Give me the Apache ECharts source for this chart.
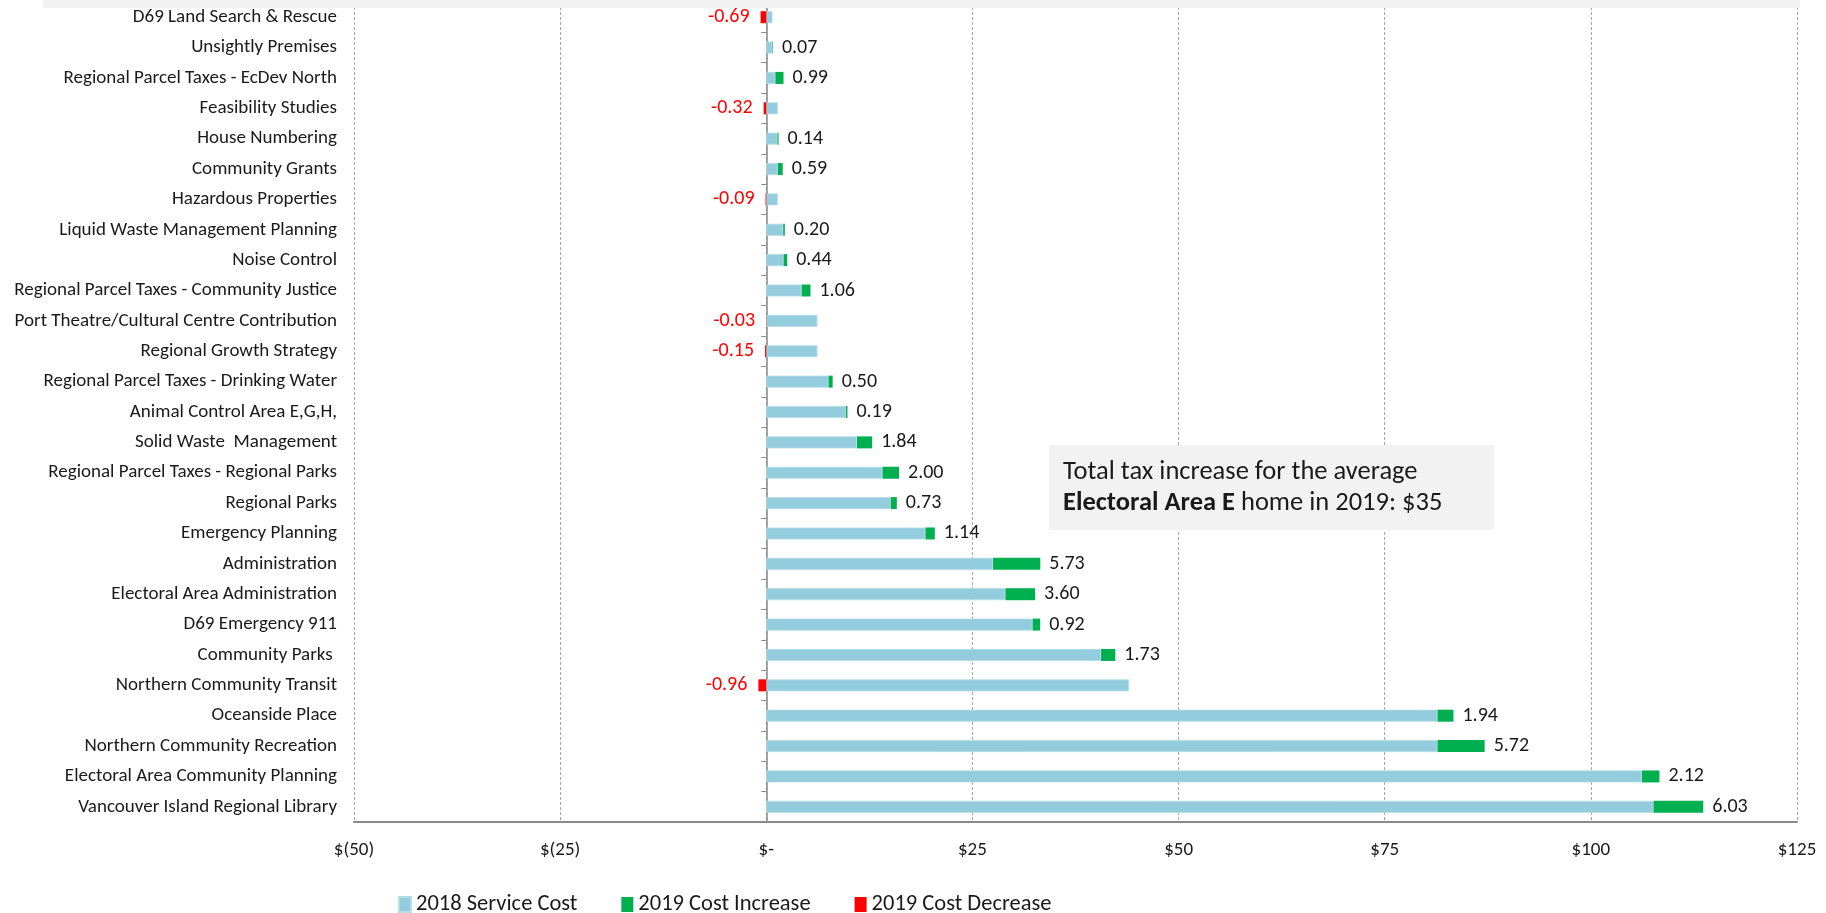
<!DOCTYPE html>
<html>
<head>
<meta charset="utf-8">
<script src="https://cdn.jsdelivr.net/npm/echarts@6/dist/echarts.min.js"></script>
<style>
html,body{margin:0;padding:0;background:#fff;}
#chart{width:1826px;height:913px;}
</style>
</head>
<body>
<div id="chart"></div>
<script>
const categories = [
  "D69 Land Search & Rescue",
  "Unsightly Premises",
  "Regional Parcel Taxes - EcDev North",
  "Feasibility Studies",
  "House Numbering",
  "Community Grants",
  "Hazardous Properties",
  "Liquid Waste Management Planning",
  "Noise Control",
  "Regional Parcel Taxes - Community Justice",
  "Port Theatre/Cultural Centre Contribution",
  "Regional Growth Strategy",
  "Regional Parcel Taxes - Drinking Water",
  "Animal Control Area E,G,H,",
  "Solid Waste  Management",
  "Regional Parcel Taxes - Regional Parks",
  "Regional Parks",
  "Emergency Planning",
  "Administration",
  "Electoral Area Administration",
  "D69 Emergency 911",
  "Community Parks ",
  "Northern Community Transit",
  "Oceanside Place",
  "Northern Community Recreation",
  "Electoral Area Community Planning",
  "Vancouver Island Regional Library"
];
const serviceCost2018 = [0.75, 0.73, 1.1, 1.4, 1.35, 1.4, 1.4, 2.05, 2.1, 4.3, 6.2, 6.2, 7.55, 9.65, 11.0, 14.1, 15.1, 19.3, 27.5, 29.0, 32.3, 40.6, 44.0, 81.4, 81.4, 106.2, 107.6];
const costIncrease2019 = [null, 0.07, 0.99, null, 0.14, 0.59, null, 0.20, 0.44, 1.06, null, null, 0.50, 0.19, 1.84, 2.00, 0.73, 1.14, 5.73, 3.60, 0.92, 1.73, null, 1.94, 5.72, 2.12, 6.03];
const costDecrease2019 = [-0.69, null, null, -0.32, null, null, -0.09, null, null, null, -0.03, -0.15, null, null, null, null, null, null, null, null, null, null, -0.96, null, null, null, null];
const xTicks = [-50, -25, 0, 25, 50, 75, 100, 125];

const FONT = "Carlito, Lato, 'Noto Sans', sans-serif";
const chart = echarts.init(document.getElementById('chart'), null, {renderer: 'canvas'});

function money(v) {
  if (v === 0) return '$-';
  if (v < 0) return '$(' + Math.abs(v) + ')';
  return '$' + v;
}

const option = {
  animation: false,
  backgroundColor: '#ffffff',
  textStyle: {fontFamily: FONT},
  grid: {left: 354, right: 29, top: 2, bottom: 91, containLabel: false},
  xAxis: {
    type: 'value',
    min: xTicks[0],
    max: xTicks[xTicks.length - 1],
    interval: 25,
    axisLine: {show: true, onZero: false, lineStyle: {color: '#8a8a8a', width: 2}},
    axisTick: {show: false},
    axisLabel: {formatter: money, color: '#1a1a1a', fontSize: 19, fontFamily: FONT, margin: 19},
    splitLine: {show: true, lineStyle: {color: '#a6a6a6', type: [3, 2], width: 1}}
  },
  yAxis: [
    {
      type: 'category',
      data: categories,
      inverse: true,
      axisLine: {show: false, onZero: false},
      axisTick: {show: false},
      axisLabel: {color: '#1a1a1a', fontSize: 19, fontFamily: FONT, margin: 17}
    },
    {
      type: 'category',
      data: categories,
      inverse: true,
      position: 'left',
      axisLine: {show: true, onZero: true, lineStyle: {color: '#8a8a8a', width: 1.5}},
      axisTick: {show: true, length: 5, lineStyle: {color: '#8a8a8a', width: 1}},
      axisLabel: {show: false},
      splitLine: {show: false}
    }
  ],
  legend: {
    data: ['2018 Service Cost', '2019 Cost Increase', '2019 Cost Decrease'],
    left: 398,
    top: 893,
    padding: 0,
    icon: 'rect',
    itemWidth: 12,
    itemHeight: 15,
    itemGap: 44,
    textStyle: {color: '#1a1a1a', fontSize: 22.5, fontFamily: FONT}
  },
  series: [
    {
      name: '2018 Service Cost',
      type: 'bar',
      stack: 'a',
      yAxisIndex: 0,
      barWidth: 12,
      data: serviceCost2018,
      itemStyle: {color: '#93cddd', borderColor: '#b5dde8', borderWidth: 0.8}
    },
    {
      name: '2019 Cost Increase',
      type: 'bar',
      stack: 'a',
      yAxisIndex: 0,
      barWidth: 12,
      data: costIncrease2019,
      itemStyle: {color: '#00b050'},
      label: {
        show: true,
        position: 'right',
        distance: 9,
        color: '#1a1a1a',
        fontSize: 20,
        fontFamily: FONT,
        formatter: p => (p.value == null ? '' : Number(p.value).toFixed(2))
      }
    },
    {
      name: '2019 Cost Decrease',
      type: 'bar',
      stack: 'a',
      yAxisIndex: 0,
      barWidth: 12,
      data: costDecrease2019,
      itemStyle: {color: '#ff0000'},
      label: {
        show: true,
        position: 'left',
        distance: 11,
        color: '#ff0000',
        fontSize: 20,
        fontFamily: FONT,
        formatter: p => (p.value == null ? '' : Number(p.value).toFixed(2))
      }
    }
  ],
  graphic: [
    {type: 'rect', left: 43, top: 0, shape: {width: 1757, height: 8}, style: {fill: '#f2f2f2'}, z: 100},
    {type: 'rect', left: 1049, top: 445, shape: {width: 445, height: 85}, style: {fill: '#f2f2f2'}, z: 100},
    {
      type: 'text', left: 1063, top: 459, z: 101,
      style: {
        text: '{a|Total tax increase for the average}\n{b|Electoral Area E}{a| home in 2019: $35}',
        rich: {
          a: {fontSize: 26.5, fontFamily: FONT, fill: '#1a1a1a', lineHeight: 31},
          b: {fontSize: 26.5, fontFamily: FONT, fontWeight: 'bold', fill: '#1a1a1a', lineHeight: 31}
        }
      }
    }
  ]
};
chart.setOption(option);
</script>
</body>
</html>
